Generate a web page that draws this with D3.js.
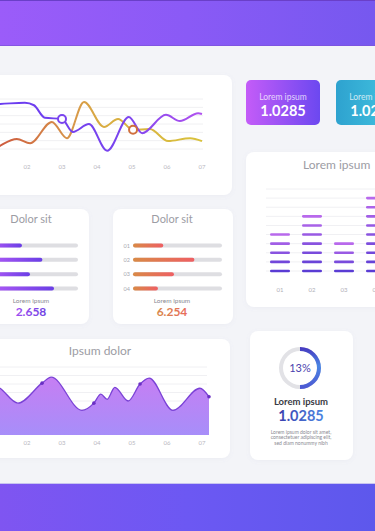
<!DOCTYPE html>
<html><head><meta charset="utf-8">
<script src="https://cdn.jsdelivr.net/npm/d3@7"></script>
<style>html,body{margin:0;padding:0;background:#f3f4f8;overflow:hidden}svg{display:block}text{font-family:Lato,"Open Sans",sans-serif}</style>
</head><body>
<script>
// ---- data ----
const xLabels = ["01","02","03","04","05","06","07"];
const purpleT = [0.9,1.09,1.94,2.2,2.51,3.0,3.31,3.77,4.29,4.91,5.29,5.97,6.37,6.89,7.0];
const purpleV = [5.4,5.4,5.55,5.25,3.75,3.6,2.05,3.0,-0.2,3.85,1.9,4.1,3.35,4.3,4.2];
const orangeT = [0.9,1.09,1.71,2.09,2.71,3.14,3.63,4.2,4.6,5.03,5.51,6.03,6.66,7.0];
const orangeV = [-0.2,0.1,1.2,0.7,3.25,1.3,5.65,2.65,3.6,2.3,2.4,0.95,1.3,0.95];
const purpleMarker = {t:3.0, v:3.6};
const orangeMarker = {t:5.03, v:2.3};

const kpiCards = ["Lorem ipsum","Lorem ipsum"];
const kpiValues = ["1.0285","1.0285"];

const stackCats = ["01","02","03","04"];
const stackVals = [5,7,4,9];

const barLabels = ["01","02","03","04"];
const barsA = [0.37,0.60,0.46,0.73];
const barsB = [0.34,0.69,0.46,0.28];
const barTotals = ["2.658","6.254"];

const areaT = [0.9,1.23,1.74,2.43,2.69,3.57,3.91,4.11,4.29,4.51,4.89,5.23,5.49,6.17,6.94,7.2];
const areaV = [6.2,5.5,3.75,6.1,6.8,2.9,3.75,4.8,4.2,5.6,4.0,6.0,6.7,2.9,5.5,4.5];
const areaDots = [3,6,11,15];

const donutFraction = 0.5;
const donutLabel = "13%";
const donutTitle = "Lorem ipsum";
const donutValue = "1.0285";
const donutText = ["Lorem ipsum dolor sit amet,","consectetuer adipiscing elit,","sed diam nonummy nibh"];

// ---- drawing ----
const W = 375, H = 531;
const svg = d3.select("body").append("svg").attr("width", W).attr("height", H);
const defs = svg.append("defs");
function lg(id, stops, x2=1, y2=0, units) {
  const g = defs.append("linearGradient").attr("id", id).attr("x1",0).attr("y1",0).attr("x2",x2).attr("y2",y2);
  if (units) g.attr("gradientUnits", units);
  stops.forEach(s => g.append("stop").attr("offset", s[0]).attr("stop-color", s[1]));
  return g;
}
lg("topBand", [[0,"#9b5cf9"],[0.5,"#8a5af6"],[1,"#7658ef"]]);
lg("botBand", [[0,"#7f55f1"],[0.5,"#6c58f3"],[1,"#5d58ec"]]);
lg("kpi1", [[0,"#c45cf8"],[1,"#6c48f0"]]);
lg("kpi2", [[0,"#2ea2cf"],[1,"#48cbe4"]]);
lg("purpleBar", [[0,"#b05af6"],[1,"#6a3ee6"]]);
lg("orangeBar", [[0,"#d98a46"],[1,"#ee5f63"]]);
lg("areaFill", [[0,"#c67ef3"],[1,"#a78ef9"]], 0, 1);
lg("donutGrad", [[0,"#4636bf"],[0.45,"#4a86e4"],[1,"#4d57d2"]], 0, 1);
lg("valBlue", [[0,"#3a3fae"],[1,"#4c86e2"]]);
lg("valPurple", [[0,"#a04ef0"],[1,"#6e42e2"]]);
lg("valOrange", [[0,"#d8894a"],[1,"#e86a5c"]]);

const filt = defs.append("filter").attr("id","sh").attr("x","-10%").attr("y","-10%").attr("width","120%").attr("height","130%");
filt.append("feDropShadow").attr("dx",0).attr("dy",1).attr("stdDeviation",2).attr("flood-color","#8a8fb0").attr("flood-opacity",0.08);

svg.append("rect").attr("width",W).attr("height",H).attr("fill","#f3f4f8");
svg.append("rect").attr("x",0).attr("y",0).attr("width",W).attr("height",46).attr("fill","url(#topBand)");
svg.append("rect").attr("x",0).attr("y",0).attr("width",W).attr("height",1).attr("fill","#6a3fc8");
svg.append("rect").attr("x",0).attr("y",45).attr("width",W).attr("height",1).attr("fill","#7c52d8").attr("opacity",0.7);
svg.append("rect").attr("x",0).attr("y",484).attr("width",W).attr("height",H-484).attr("fill","url(#botBand)");
svg.append("rect").attr("x",0).attr("y",483).attr("width",W).attr("height",1).attr("fill","#c8c4f0");

function card(x,y,w,h){ svg.append("rect").attr("x",x).attr("y",y).attr("width",w).attr("height",h).attr("rx",8).attr("fill","#fff").attr("filter","url(#sh)"); }
card(-20,75,252,120);
card(246,152,150,155);
card(-31,209,120,115);
card(113,209,120,115);
card(-20,339,250,119);
card(250,331,103,129);

const titleColor = "#9c9ca4";

// ---- top line chart ----
const xs = d3.scaleLinear().domain([1,7]).range([-8,202]);
const yTop = d3.scaleLinear().domain([0,6]).range([149,99]);
const gTop = svg.append("g");
gTop.selectAll("line.grid").data(d3.range(0,7)).join("line")
  .attr("x1",0).attr("x2",203).attr("y1",d=>yTop(d)).attr("y2",d=>yTop(d))
  .attr("stroke","#f0f0f2").attr("stroke-width",1);
gTop.selectAll("text.xl").data(xLabels.slice(1)).join("text")
  .attr("x",(d,i)=>xs(i+2)).attr("y",169).attr("text-anchor","middle")
  .attr("font-size",6).attr("fill","#b8b8c0").text(d=>d);
lg("pLine", [[0,"#6a3cf0"],[0.6,"#7a44ee"],[1,"#b152ef"]], 202, 0, "userSpaceOnUse");
lg("oLine", [[0,"#cd5a3e"],[0.35,"#d7954a"],[0.5,"#d9ac42"],[1,"#d9c23c"]], 202, 0, "userSpaceOnUse");
const lineGen = d3.line().curve(d3.curveMonotoneX);
gTop.append("path").attr("d", lineGen(orangeT.map((t,i)=>[xs(t), yTop(orangeV[i])])))
  .attr("fill","none").attr("stroke","url(#oLine)").attr("stroke-width",2);
gTop.append("path").attr("d", lineGen(purpleT.map((t,i)=>[xs(t), yTop(purpleV[i])])))
  .attr("fill","none").attr("stroke","url(#pLine)").attr("stroke-width",2);
gTop.append("circle").attr("cx",xs(purpleMarker.t)).attr("cy",yTop(purpleMarker.v)).attr("r",4)
  .attr("fill","#fff").attr("stroke","#7a44ee").attr("stroke-width",2);
gTop.append("circle").attr("cx",xs(orangeMarker.t)).attr("cy",yTop(orangeMarker.v)).attr("r",4)
  .attr("fill","#fff").attr("stroke","#d0703e").attr("stroke-width",2);

// ---- KPI cards ----
kpiCards.forEach((t,i)=>{
  const x = 246 + i*90;
  svg.append("rect").attr("x",x).attr("y",80).attr("width",74).attr("height",45).attr("rx",5).attr("fill",`url(#kpi${i+1})`);
  svg.append("text").attr("x",x+37).attr("y",100).attr("text-anchor","middle").attr("font-size",8.5).attr("fill","#fff").attr("fill-opacity",0.75).text(t);
  svg.append("text").attr("x",x+37).attr("y",116).attr("text-anchor","middle").attr("font-size",14.5).attr("font-weight",700).attr("fill","#fff").text(kpiValues[i]);
});

// ---- segmented bar chart ----
const xb = d3.scalePoint().domain(stackCats).range([280,376]);
const yb = d3.scaleLinear().domain([1,10]).range([271,189]);
svg.append("text").attr("x",303).attr("y",169).attr("font-size",12).attr("fill",titleColor).text("Lorem ipsum");
svg.selectAll("line.bg").data(d3.range(1,11)).join("line")
  .attr("x1",266).attr("x2",W).attr("y1",d=>yb(d)).attr("y2",d=>yb(d)).attr("stroke","#f0f0f3");
stackCats.forEach((c,ci)=>{
  const n = stackVals[ci];
  const col = d3.interpolateRgb("#5a3cd4","#b869ec");
  svg.selectAll(null).data(d3.range(1,n+1)).join("rect")
    .attr("x",xb(c)-10).attr("y",d=>yb(d)-1.3).attr("width",20).attr("height",2.6).attr("rx",1.3)
    .attr("fill",d=>col(n===1?0:(d-1)/(n-1)));
  svg.append("text").attr("x",xb(c)).attr("y",292).attr("text-anchor","middle").attr("font-size",6).attr("fill","#b0b0b8").text(c);
});

// ---- progress bar cards ----
function barCard(cx, x0, vals, grad, total, valGrad){
  svg.append("text").attr("x",cx).attr("y",223).attr("text-anchor","middle").attr("font-size",11).attr("fill",titleColor).text("Dolor sit");
  const xw = d3.scaleLinear().domain([0,1]).range([x0, x0+89]);
  const yy = d3.scalePoint().domain(barLabels).range([245.5,288.5]);
  barLabels.forEach((l,i)=>{
    if (x0 > 20) svg.append("text").attr("x",x0-3).attr("y",yy(l)+2).attr("text-anchor","end").attr("font-size",5.5).attr("fill","#a8a8b0").text(l);
    svg.append("rect").attr("x",xw(0)).attr("y",yy(l)-2).attr("width",xw(1)-xw(0)).attr("height",4).attr("rx",2).attr("fill","#dedee2");
    svg.append("rect").attr("x",xw(0)).attr("y",yy(l)-2).attr("width",xw(vals[i])-xw(0)).attr("height",4).attr("rx",2).attr("fill",`url(#${grad})`);
  });
  svg.append("text").attr("x",cx).attr("y",303).attr("text-anchor","middle").attr("font-size",6.5).attr("fill","#8a8a92").text("Lorem ipsum");
  svg.append("text").attr("x",cx).attr("y",316).attr("text-anchor","middle").attr("font-size",12).attr("font-weight",700).attr("fill",`url(#${valGrad})`).text(total);
}
barCard(31, -11, barsA, "purpleBar", barTotals[0], "valPurple");
barCard(172, 133, barsB, "orangeBar", barTotals[1], "valOrange");

// ---- area chart ----
const ya = d3.scaleLinear().domain([0,8]).range([435,367]);
svg.append("text").attr("x",100).attr("y",355).attr("text-anchor","middle").attr("font-size",12).attr("fill",titleColor).text("Ipsum dolor");
svg.selectAll("line.ag").data(d3.range(1,9)).join("line")
  .attr("x1",0).attr("x2",207).attr("y1",d=>ya(d)).attr("y2",d=>ya(d)).attr("stroke","#f0f0f3");
const pts = areaT.map((t,i)=>[xs(t), ya(areaV[i])]);
svg.append("path").attr("d", d3.area().curve(d3.curveMonotoneX).x(d=>d[0]).y0(ya(0)).y1(d=>d[1])(pts)).attr("fill","url(#areaFill)");
svg.append("path").attr("d", d3.line().curve(d3.curveMonotoneX)(pts)).attr("fill","none").attr("stroke","#7a42d6").attr("stroke-width",1.3);
svg.selectAll("circle.ad").data(areaDots).join("circle").attr("cx",i=>pts[i][0]).attr("cy",i=>pts[i][1]).attr("r",1.8).attr("fill","#6a2fc4");
svg.selectAll("text.axl").data(xLabels.slice(1)).join("text")
  .attr("x",(d,i)=>xs(i+2)).attr("y",445).attr("text-anchor","middle").attr("font-size",6).attr("fill","#b8b8c0").text(d=>d);

// ---- donut ----
const dg = svg.append("g").attr("transform","translate(300,368)");
const arc = d3.arc().innerRadius(17).outerRadius(21);
dg.append("path").attr("d", arc({startAngle:0,endAngle:2*Math.PI})).attr("fill","#e2e2e6");
dg.append("path").attr("d", arc({startAngle:0,endAngle:donutFraction*2*Math.PI})).attr("fill","url(#donutGrad)");
dg.append("text").attr("y",4).attr("text-anchor","middle").attr("font-size",11).attr("fill","#4a3fae").text(donutLabel);
svg.append("text").attr("x",301).attr("y",405).attr("text-anchor","middle").attr("font-size",9.5).attr("font-weight",700).attr("fill","#3a3a44").text(donutTitle);
svg.append("text").attr("x",301).attr("y",421).attr("text-anchor","middle").attr("font-size",14.5).attr("font-weight",700).attr("fill","url(#valBlue)").text(donutValue);
svg.selectAll("text.dt").data(donutText).join("text").attr("x",301).attr("y",(d,i)=>434+i*5.3)
  .attr("text-anchor","middle").attr("font-size",5).attr("fill","#8a8a92").text(d=>d);
</script>
</body></html>
